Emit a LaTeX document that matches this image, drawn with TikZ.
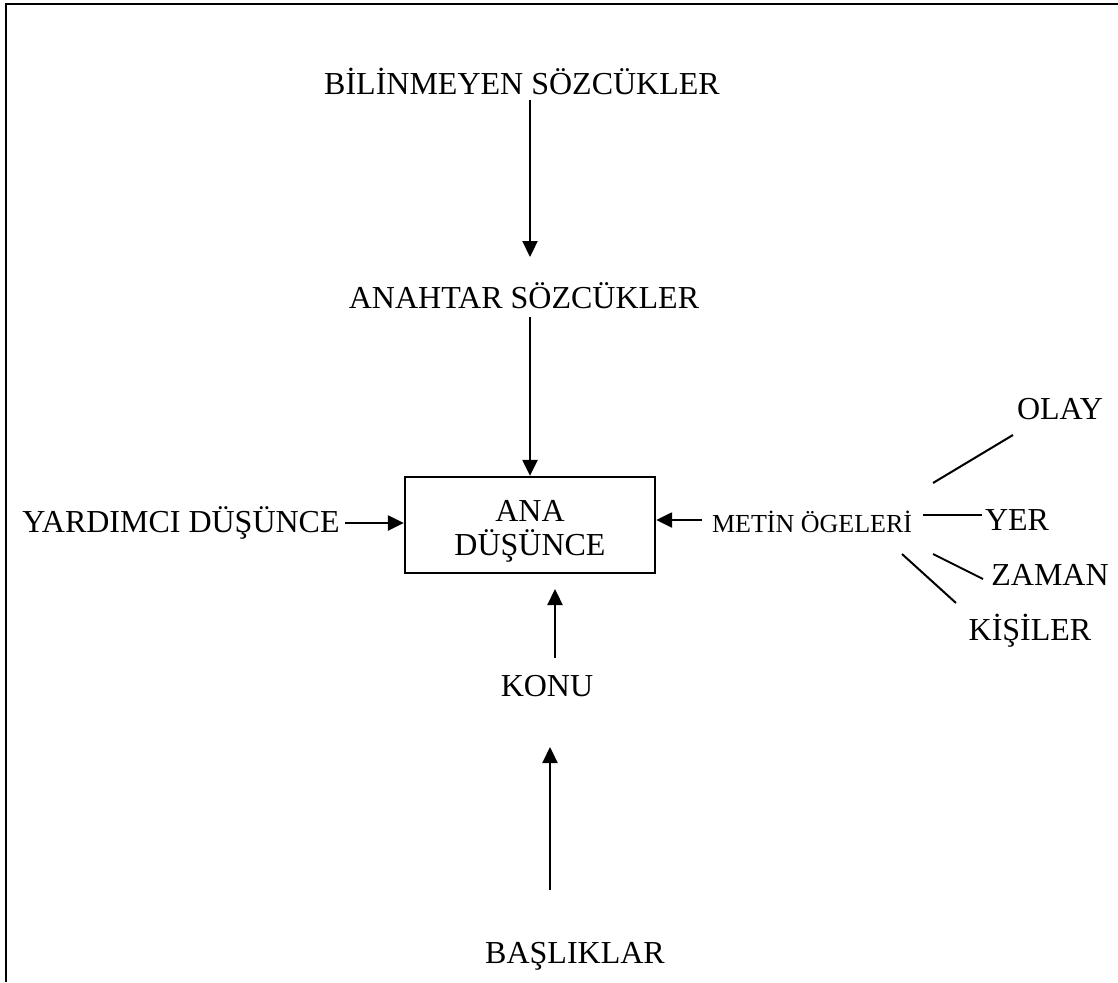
\documentclass[tikz,border=0pt]{standalone}
\usepackage{fontspec}
\setmainfont{Liberation Serif}
\usetikzlibrary{arrows.meta}
\begin{document}
\begin{tikzpicture}[x=1pt,y=-1pt,
  lbl/.style={inner sep=0pt,anchor=base,font=\fontsize{32}{36}\selectfont},
  small/.style={inner sep=0pt,anchor=base,font=\fontsize{26}{30}\selectfont},
  arr/.style={line width=2.3pt,-{Triangle[length=16pt,width=15pt]}},
  ln/.style={line width=2pt},
  mainbox/.style={draw,line width=2.3pt,minimum width=250pt,minimum height=96pt,
    align=center,inner sep=0pt,font=\fontsize{32}{34}\selectfont}]
\useasboundingbox (0,0) rectangle (1118,982);
% frame (open at right and bottom)
\coordinate (fbl) at (6,982);
\coordinate (ftl) at (6,4);
\coordinate (ftr) at (1118,4);
\draw[line width=2.8pt] (fbl) -- (ftl) -- (ftr);

% nodes
\node[lbl] (bil) at (522,94) {BİLİNMEYEN SÖZCÜKLER};
\node[lbl] (anah) at (524,308) {ANAHTAR SÖZCÜKLER};
\node[mainbox] (ana) at (530,525) {};
\node[lbl] (anatxt) at (530,521) {ANA};
\node[lbl] (dustxt) at (530,555) {DÜŞÜNCE};
\node[lbl] (yard) at (181,532) {YARDIMCI DÜŞÜNCE};
\node[small] (metin) at (812,532) {METİN ÖGELERİ};
\node[lbl] (olay) at (1060,419) {OLAY};
\node[lbl] (yer) at (1017,530) {YER};
\node[lbl] (zaman) at (1050,585) {ZAMAN};
\node[lbl] (kisi) at (1030,640) {KİŞİLER};
\node[lbl] (konu) at (547,696) {KONU};
\node[lbl] (bas) at (575,963) {BAŞLIKLAR};

% arrow end points
\coordinate (a1s) at (530,100);
\coordinate (a1e) at (530,257);
\coordinate (a2s) at (530,317);
\coordinate (a3s) at (345,523);
\coordinate (a4s) at (702,520);
\coordinate (a5s) at (555,658);
\coordinate (a5e) at (555,589);
\coordinate (a6s) at (550,890);
\coordinate (a6e) at (550,747);

\draw[arr] (a1s) -- (a1e);
\draw[arr] (a2s) -- (ana.north -| a2s);
\draw[arr] (a3s) -- (ana.west |- a3s);
\draw[arr] (a4s) -- (ana.east |- a4s);
\draw[arr] (a5s) -- (a5e);
\draw[arr] (a6s) -- (a6e);

% branch lines from METIN OGELERI
\coordinate (l1s) at (933,483);
\coordinate (l1e) at (1013,435);
\coordinate (l2s) at (923,515);
\coordinate (l2e) at (982,515);
\coordinate (l3s) at (933,554);
\coordinate (l3e) at (983,579);
\coordinate (l4s) at (902,554);
\coordinate (l4e) at (956,603);
\draw[ln] (l1s) -- (l1e);
\draw[ln] (l2s) -- (l2e);
\draw[ln] (l3s) -- (l3e);
\draw[ln] (l4s) -- (l4e);
\end{tikzpicture}
\end{document}
